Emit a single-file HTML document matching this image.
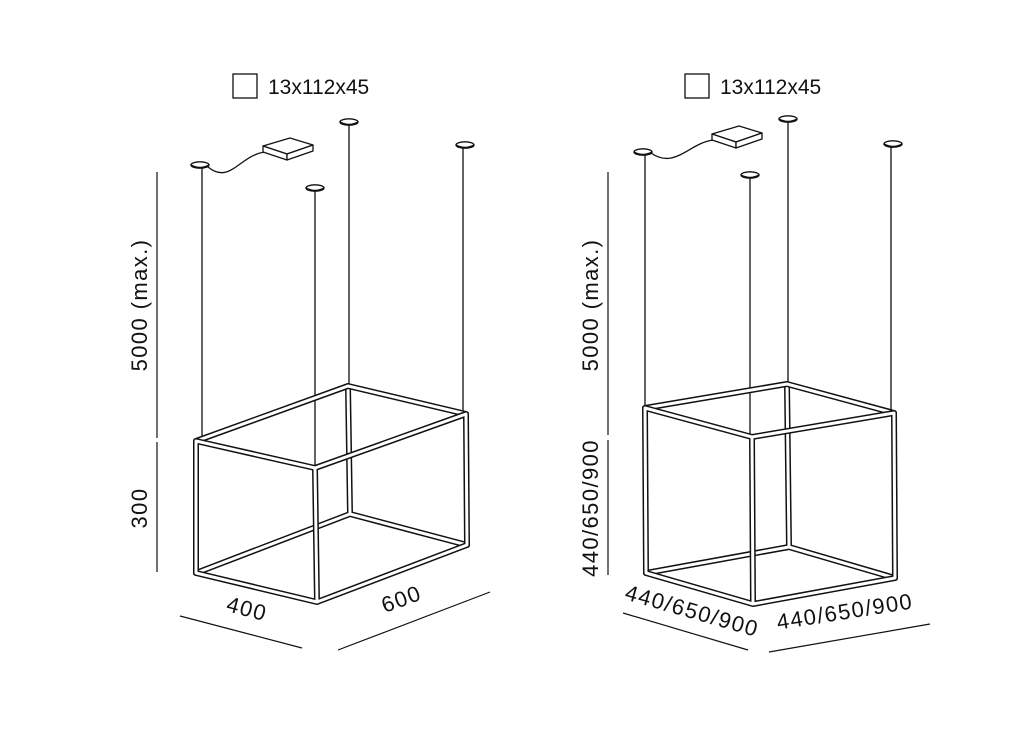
<!DOCTYPE html>
<html><head><meta charset="utf-8"><style>
html,body{margin:0;padding:0;background:#fff;}
svg{display:block;}
text{font-family:"Liberation Sans",sans-serif;fill:#111;font-size:21px;letter-spacing:0.6px;}
text.big{font-size:22px;letter-spacing:1.4px;}
</style></head><body>
<svg width="1024" height="743" viewBox="0 0 1024 743" xmlns="http://www.w3.org/2000/svg">
<defs>
<g id="disc"><ellipse cx="0" cy="0" rx="9" ry="3.2" fill="#fff" stroke="#111" stroke-width="1.4"/><path d="M-9,0 Q0,5 9,0" fill="none" stroke="#111" stroke-width="1.4"/></g>
</defs>
<rect x="233" y="74" width="24" height="24" fill="none" stroke="#111" stroke-width="1.3"/>
<text x="268" y="94" style="letter-spacing:0">13x112x45</text>
<rect x="685" y="74" width="24" height="24" fill="none" stroke="#111" stroke-width="1.3"/>
<text x="720" y="94" style="letter-spacing:0">13x112x45</text>

<g stroke="#111" stroke-width="1.3" fill="none">
<line x1="202" y1="166" x2="202" y2="441"/>
<line x1="349" y1="122" x2="349" y2="388"/>
<line x1="463" y1="145" x2="463" y2="414"/>
<line x1="315" y1="188" x2="315" y2="468"/>
<path d="M208,167 C230,185 240,155 265,152"/>
</g>
<use href="#disc" x="200" y="165"/>
<use href="#disc" x="349" y="122"/>
<use href="#disc" x="465" y="145"/>
<use href="#disc" x="315" y="188"/>
<g stroke="#111" stroke-width="1.3" fill="#fff" stroke-linejoin="round">
<polygon points="263,146 290,138 313,145 287,154"/>
<polygon points="263,146 287,154 287,160 263,152"/>
<polygon points="287,154 313,145 313,151 287,160"/>
</g>

<!-- LEFT box: back edges -->
<g fill="none" stroke-linejoin="round" stroke-linecap="round">
<path d="M348,386 L350,514 M196,573 L350,514 L467,545" stroke="#111" stroke-width="6"/>
<path d="M348,386 L350,514 M196,573 L350,514 L467,545" stroke="#fff" stroke-width="3"/>
<path d="M196,441 L348,386 L466,414" stroke="#111" stroke-width="6"/>
<path d="M196,441 L348,386 L466,414" stroke="#fff" stroke-width="3"/>
<path d="M196,441 L315,468 L466,414 M196,441 L196,573 L317,602 L467,545 L466,414 M315,468 L317,602" stroke="#111" stroke-width="6"/>
<path d="M196,441 L315,468 L466,414 M196,441 L196,573 L317,602 L467,545 L466,414 M315,468 L317,602" stroke="#fff" stroke-width="3"/>
</g>

<g stroke="#111" stroke-width="1.2">
<line x1="157" y1="172" x2="157" y2="438"/>
<line x1="157" y1="442" x2="157" y2="572"/>
<line x1="180" y1="616" x2="302" y2="648"/>
<line x1="338" y1="650" x2="490" y2="592"/>
</g>
<text class="big" transform="translate(147,305) rotate(-90)" text-anchor="middle">5000 (max.)</text>
<text class="big" transform="translate(147,508) rotate(-90)" text-anchor="middle">300</text>
<text class="big" transform="translate(245,616) rotate(15)" text-anchor="middle">400</text>
<text class="big" transform="translate(404,606) rotate(-20)" text-anchor="middle">600</text>

<g stroke="#111" stroke-width="1.3" fill="none">
<line x1="645" y1="152" x2="645" y2="408"/>
<line x1="750" y1="175" x2="750" y2="437"/>
<line x1="788" y1="119" x2="788" y2="384"/>
<line x1="891" y1="144" x2="891" y2="413"/>
<path d="M651,153 C675,170 690,142 714,140"/>
</g>
<use href="#disc" x="643" y="152"/>
<use href="#disc" x="750" y="175"/>
<use href="#disc" x="788" y="119"/>
<use href="#disc" x="893" y="144"/>
<g stroke="#111" stroke-width="1.3" fill="#fff" stroke-linejoin="round">
<polygon points="712,134 739,126 762,133 736,142"/>
<polygon points="712,134 736,142 736,148 712,140"/>
<polygon points="736,142 762,133 762,139 736,148"/>
</g>

<!-- RIGHT box -->
<g fill="none" stroke-linejoin="round" stroke-linecap="round">
<path d="M787,384 L789,547 M646,573 L789,547 L895,578" stroke="#111" stroke-width="6"/>
<path d="M787,384 L789,547 M646,573 L789,547 L895,578" stroke="#fff" stroke-width="3"/>
<path d="M645,408 L787,384 L894,413" stroke="#111" stroke-width="6"/>
<path d="M645,408 L787,384 L894,413" stroke="#fff" stroke-width="3"/>
<path d="M645,408 L752,437 L894,413 M645,408 L646,573 L753,604 L895,578 L894,413 M752,437 L753,604" stroke="#111" stroke-width="6"/>
<path d="M645,408 L752,437 L894,413 M645,408 L646,573 L753,604 L895,578 L894,413 M752,437 L753,604" stroke="#fff" stroke-width="3"/>
</g>

<g stroke="#111" stroke-width="1.2">
<line x1="608" y1="172" x2="608" y2="435"/>
<line x1="608" y1="440" x2="608" y2="575"/>
<line x1="623" y1="613" x2="748" y2="650"/>
<line x1="769" y1="652" x2="930" y2="624"/>
</g>
<text class="big" transform="translate(598,305) rotate(-90)" text-anchor="middle">5000 (max.)</text>
<text class="big" transform="translate(598,508) rotate(-90)" text-anchor="middle">440/650/900</text>
<text class="big" transform="translate(690,618) rotate(16)" text-anchor="middle">440/650/900</text>
<text class="big" transform="translate(846,619) rotate(-9)" text-anchor="middle">440/650/900</text>
</svg>
</body></html>
